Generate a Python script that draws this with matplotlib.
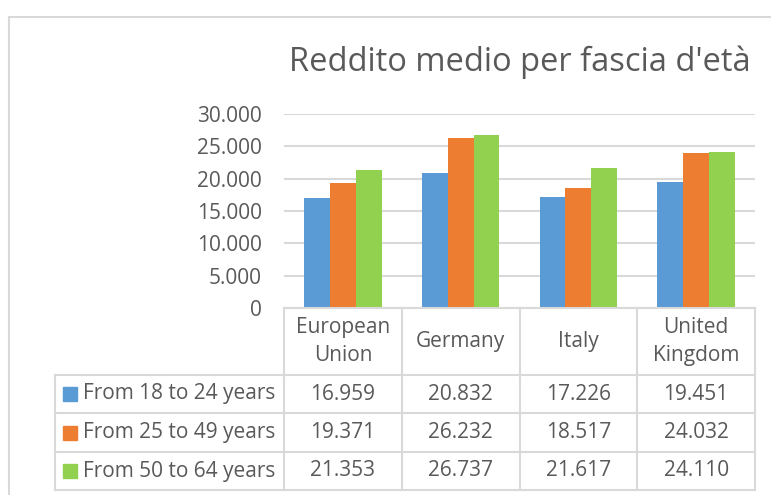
import matplotlib.pyplot as plt
from matplotlib.transforms import blended_transform_factory
from matplotlib.patches import Rectangle
import numpy as np

plt.rcParams['font.family'] = ['Open Sans', 'DejaVu Sans']

# data
countries = ['European\nUnion', 'Germany', 'Italy', 'United\nKingdom']
series_names = ['From 18 to 24 years', 'From 25 to 49 years', 'From 50 to 64 years']
age_18_24 = [16959, 20832, 17226, 19451]
age_25_49 = [19371, 26232, 18517, 24032]
age_50_64 = [21353, 26737, 21617, 24110]
y_ticks = [0, 5000, 10000, 15000, 20000, 25000, 30000]

series = [age_18_24, age_25_49, age_50_64]
colors = ['#5B9BD5', '#ED7D31', '#92D050']
grey_text = '#595959'
line_col = '#D9D9D9'

W, H = 771, 495


def fx(px):
    return px / W


def fy(py):
    return 1 - py / H


def fmt(v):
    return f"{v:,}".replace(',', '.')


fig = plt.figure(figsize=(W / 100, H / 100), dpi=100)

# chart frame
fig.patches.append(Rectangle((fx(9), fy(500)), fx(780) - fx(9), fy(17) - fy(500),
                             transform=fig.transFigure, fill=False,
                             edgecolor=line_col, linewidth=1.5))

fig.text(fx(520), fy(62), "Reddito medio per fascia d'età", ha='center', va='center',
         fontsize=23.5, color=grey_text)

ax = fig.add_axes([fx(284), fy(308), fx(755) - fx(284), fy(114) - fy(308)])
x = np.arange(len(countries))
bw = 0.22
for i, vals in enumerate(series):
    ax.bar(x + (i - 1) * bw, vals, bw, color=colors[i], zorder=3)

ax.set_xlim(-0.5, len(countries) - 0.5)
ax.set_ylim(0, 30000)
ax.set_yticks(y_ticks)
ax.set_yticklabels([fmt(v) for v in y_ticks], fontsize=15, color=grey_text)
ax.tick_params(axis='y', length=0, pad=16)
ax.set_xticks([])
ax.grid(axis='y', color=line_col, linewidth=1.5, zorder=0)
for s in ax.spines.values():
    s.set_visible(False)

# data table under the chart
tr = blended_transform_factory(ax.transData, fig.transFigure)
row_y = [308, 375, 413, 452, 490]
edges = np.arange(len(countries) + 1) - 0.5


def hline(x0, x1, py, trans):
    fig.add_artist(plt.Line2D([x0, x1], [fy(py), fy(py)], transform=trans,
                              color=line_col, linewidth=1.5))


def vline(xv, py0, py1, trans):
    fig.add_artist(plt.Line2D([xv, xv], [fy(py0), fy(py1)], transform=trans,
                              color=line_col, linewidth=1.5))


hline(edges[0], edges[-1], row_y[0], tr)
for py in row_y[1:]:
    hline(fx(55), fx(284), py, fig.transFigure)
    hline(edges[0], edges[-1], py, tr)
for e in edges:
    vline(e, row_y[0], row_y[-1], tr)
vline(fx(55), row_y[1], row_y[-1], fig.transFigure)

for j, c in enumerate(countries):
    fig.text(x[j], fy((row_y[0] + row_y[1]) / 2), c, transform=tr, ha='center',
             va='center', fontsize=15, color=grey_text, linespacing=1.4)

for i, vals in enumerate(series):
    yc = fy((row_y[i + 1] + row_y[i + 2]) / 2)
    fig.patches.append(Rectangle((fx(63), yc - 7 / H), 14 / W, 14 / H,
                                 transform=fig.transFigure, color=colors[i]))
    fig.text(fx(83), yc, series_names[i], ha='left', va='center', fontsize=15,
             color=grey_text)
    for j, v in enumerate(vals):
        fig.text(x[j], yc, fmt(v), transform=tr, ha='center', va='center',
                 fontsize=15, color=grey_text)

fig.savefig('out.png', dpi=100)
